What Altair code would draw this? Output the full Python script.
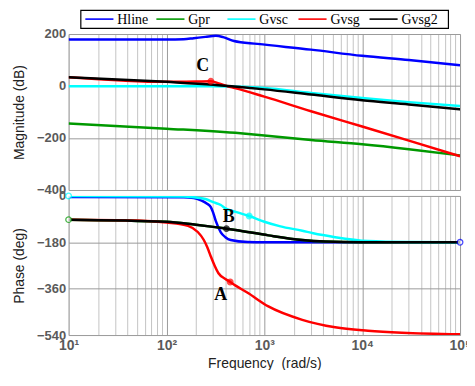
import altair as alt
import pandas as pd

series = ["Hline", "Gpr", "Gvsc", "Gvsg", "Gvsg2"]
colors = ["#0000ff", "#009900", "#00ffff", "#ff0000", "#000000"]

# ---- magnitude (dB) ----
hline_mag_f = [10, 100, 150, 190, 250, 320, 380, 490, 850, 3000, 10000, 30000, 100000]
hline_mag_v = [179, 179, 180, 184, 189, 193, 188, 173, 162, 140, 116, 100, 80]
gpr_mag_f = [10, 100, 570, 1000, 3000, 10000, 30000, 100000]
gpr_mag_v = [-144, -164, -182, -190, -208, -224, -243, -267]
gvsc_mag_f = [10, 300, 600, 1000, 3000, 10000, 30000, 100000]
gvsc_mag_v = [-1, -1, -3, -8, -27, -46, -62, -77]
gvsg_mag_f = [10, 100, 200, 284, 350, 420, 500, 1000, 3000, 10000, 30000, 100000]
gvsg_mag_v = [34, 16, 17, 18, 9, -1, -8, -41, -97, -156, -210, -270]
gvsg2_mag_f = [10, 100, 300, 600, 1000, 3000, 10000, 30000, 100000]
gvsg2_mag_v = [34, 16, 5, -5, -13, -33, -55, -71, -90]

# ---- phase (deg) ----
hline_ph_f = [10, 150, 190, 225, 260, 284, 300, 319, 359, 400, 453, 675, 1000, 100000]
hline_ph_v = [-4, -5, -8, -17, -30, -43, -65, -97, -141, -160, -171, -179, -180, -180]
gvsc_ph_f = [10, 150, 191, 250, 305, 359, 400, 509, 700, 1000, 1462, 2443, 3162, 5297, 11450, 30000, 100000]
gvsc_ph_v = [0, -2, -5, -12, -25, -35, -48, -62, -78, -100, -118, -135, -145, -160, -175, -179, -180]
gvsg_ph_f = [10, 50, 100, 166, 209, 240, 262, 284, 310, 340, 400, 453, 509, 675, 1100, 2443, 5297, 11450, 25400, 100000]
gvsg_ph_v = [-92, -95, -103, -116, -140, -170, -200, -235, -270, -300, -322, -335, -348, -376, -429, -481, -510, -523, -531, -537]
gvsg2_ph_f = [10, 100, 200, 300, 410, 509, 1100, 2443, 4200, 10000, 100000]
gvsg2_ph_v = [-92, -100, -112, -120, -127, -132, -153, -171, -177, -180, -180]
gpr_ph_f = gvsg2_ph_f
gpr_ph_v = gvsg2_ph_v

# ---- markers ----
mag_mark_f = [284]
mag_mark_v = [18]
mag_mark_c = ["#ff0000"]
mag_mark_fill = ["#ff0000"]
ph_mark_f = [10, 10, 700, 410, 448, 100000]
ph_mark_v = [0, -92, -78, -127, -334, -180]
ph_mark_c = ["#00ffff", "#009900", "#00ffff", "#000000", "#ff0000", "#0000ff"]
ph_mark_fill = ["#ffffff", "#ffffff", "#00ffff", "#000000", "#ff0000", "#ffffff"]

# ---- annotation letters ----
mag_lab_t = ["C"]
mag_lab_f = [234]
mag_lab_v = [75]
ph_lab_t = ["B", "A"]
ph_lab_f = [433, 359]
ph_lab_v = [-81, -383]


def long(fs, vs):
    rows = []
    for name, f, v in zip(series, fs, vs):
        for a, b in zip(f, v):
            rows.append({"f": a, "v": b, "s": name})
    return pd.DataFrame(rows)


mag_df = long([hline_mag_f, gpr_mag_f, gvsc_mag_f, gvsg_mag_f, gvsg2_mag_f],
              [hline_mag_v, gpr_mag_v, gvsc_mag_v, gvsg_mag_v, gvsg2_mag_v])
ph_df = long([hline_ph_f, gpr_ph_f, gvsc_ph_f, gvsg_ph_f, gvsg2_ph_f],
             [hline_ph_v, gpr_ph_v, gvsc_ph_v, gvsg_ph_v, gvsg2_ph_v])
mag_mk = pd.DataFrame({"f": mag_mark_f, "v": mag_mark_v, "c": mag_mark_c, "fc": mag_mark_fill})
ph_mk = pd.DataFrame({"f": ph_mark_f, "v": ph_mark_v, "c": ph_mark_c, "fc": ph_mark_fill})
mag_lab = pd.DataFrame({"f": mag_lab_f, "v": mag_lab_v, "t": mag_lab_t})
ph_lab = pd.DataFrame({"f": ph_lab_f, "v": ph_lab_v, "t": ph_lab_t})
leg_df = pd.DataFrame({"s": series})

xticks = [m * 10 ** k for k in range(1, 5) for m in range(1, 10)] + [100000]
grid_cond = {"condition": {"test": "indexof([10,100,1000,10000,100000], datum.value) >= 0",
                           "value": "#9a9a9a"}, "value": "#c4c4c4"}
label_expr = ("datum.value == 10 ? '10¹' : datum.value == 100 ? '10²' : "
              "datum.value == 1000 ? '10³' : datum.value == 10000 ? '10⁴' : "
              "datum.value == 100000 ? '10⁵' : ''")

xscale = alt.Scale(type="log", domain=[10, 100000], nice=False)
W = 394
cscale = alt.Scale(domain=series, range=colors)
color = alt.Color("s:N", scale=cscale, legend=None)

yaxis_common = dict(grid=True, gridColor="#9a9a9a", ticks=False, domain=False,
                    labelFont="Liberation Sans", labelFontWeight="bold", labelFontSize=13,
                    labelColor="#5a5a5a", labelPadding=3, minExtent=55, maxExtent=55,
                    titleFont="Liberation Sans", titleFontWeight="normal", titleFontSize=14,
                    titleColor="#222222", titleX=-42)


def panel(df, mk, lab, ydom, yvals, ytitle, bottom, h):
    if bottom:
        xaxis = alt.Axis(values=xticks, grid=True, gridColor=grid_cond, ticks=False, domain=False,
                         labelExpr=label_expr, labelFlush=False, labelOverlap=False,
                         labelFont="Liberation Sans", labelFontWeight="bold", labelFontSize=14,
                         labelColor="#5a5a5a", labelPadding=4,
                         title="Frequency\u00a0\u00a0(rad/s)", titleFont="Liberation Sans",
                         titleFontWeight="normal", titleFontSize=14, titleColor="#222222",
                         titlePadding=4)
    else:
        xaxis = alt.Axis(values=xticks, grid=True, gridColor=grid_cond, ticks=False, domain=False,
                         labels=False, title=None)
    x = alt.X("f:Q", scale=xscale, axis=xaxis)
    y = alt.Y("v:Q", scale=alt.Scale(domain=ydom, nice=False),
              axis=alt.Axis(values=yvals, title=ytitle, **yaxis_common))
    lines = alt.Chart(df).mark_line(strokeWidth=2.5, clip=True, interpolate="monotone").encode(
        x=x, y=y, color=color, order=alt.Order("f:Q"))
    pts = alt.Chart(mk).mark_point(shape="circle", filled=True, size=32, strokeWidth=1.3).encode(
        x=x, y=y, fill=alt.Fill("fc:N", scale=None), stroke=alt.Stroke("c:N", scale=None))
    txt = alt.Chart(lab).mark_text(font="Liberation Serif", fontWeight="bold", fontSize=18,
                                   color="black", baseline="middle", align="center").encode(
        x=x, y=y, text="t:N")
    return alt.layer(lines, pts, txt).properties(width=W, height=h)


# legend row
lx = alt.X("s:N", sort=series, scale=alt.Scale(type="point", domain=series, padding=0.587), axis=None)
leg_sym = alt.Chart(leg_df).mark_point(shape="stroke", size=800, strokeWidth=1.6, xOffset=-23,
                                       opacity=1).encode(x=lx, color=color)
leg_txt = alt.Chart(leg_df).mark_text(align="left", baseline="middle", dx=-5, dy=1,
                                      font="Liberation Serif", fontSize=14, color="black").encode(
    x=lx, text="s:N")
legend_row = alt.layer(leg_sym, leg_txt).properties(
    width=370, height=18, view=alt.ViewBackground(stroke="black", strokeWidth=1.2, fill="white"))

top = panel(mag_df, mag_mk, mag_lab, [-400, 200], [-400, -200, 0, 200], "Magnitude (dB)", False, 157)
bot = panel(ph_df, ph_mk, ph_lab, [-540, 0], [-540, -360, -180, 0], "Phase (deg)", True, 140)

chart = alt.vconcat(legend_row, top, bot, spacing=6, bounds="flush", center=True).properties(
    padding={"left": 4, "top": 0, "right": -5, "bottom": -3}
).configure_view(stroke="#707070", strokeWidth=2).configure(background="white")

chart.save("out.html", embed_options={"renderer": "svg", "actions": False})
